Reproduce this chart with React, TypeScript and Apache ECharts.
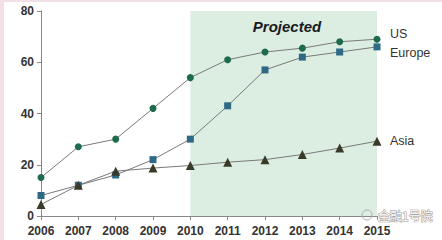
import React, { useEffect, useRef } from "react";
import * as echarts from "echarts";

const years = ["2006", "2007", "2008", "2009", "2010", "2011", "2012", "2013", "2014", "2015"];
const usValues = [15, 27, 30, 42, 54, 61, 64, 65.5, 68, 69];
const europeValues = [8, 12, 16, 22, 30, 43, 57, 62, 64, 66];
const asiaValues = [4.5, 12, 17.5, 18.7, 19.7, 21, 22, 24, 26.5, 29.2];
const projectedFrom = "2010";
const projectedTo = "2015";

export default function App() {
  const ref = useRef<HTMLDivElement>(null);
  useEffect(() => {
    if (!ref.current) return;
    const chart = echarts.init(ref.current, null, { renderer: "svg" });
    const lineStyle = { color: "#7a7a7a", width: 1 };
    const endLabel = (offset: number[]) => ({
      show: true,
      formatter: "{a}",
      distance: 13,
      offset,
      color: "#333",
      fontSize: 12.5,
      fontFamily: "Liberation Sans, Arial, sans-serif",
    });
    chart.setOption({
      animation: false,
      backgroundColor: "#ffffff",
      grid: { left: 41, right: 65, top: 11, bottom: 24 },
      xAxis: {
        type: "category",
        data: years,
        boundaryGap: false,
        axisLine: { lineStyle: { color: "#888", width: 1 } },
        axisTick: { show: true, length: 4, alignWithLabel: true, lineStyle: { color: "#888" } },
        axisLabel: {
          color: "#333",
          fontSize: 12,
          fontWeight: "bold",
          fontFamily: "Liberation Sans, Arial, sans-serif",
          margin: 9,
          interval: 0,
        },
        splitLine: { show: false },
      },
      yAxis: {
        type: "value",
        min: 0,
        max: 80,
        interval: 20,
        axisLine: { show: true, lineStyle: { color: "#888", width: 1 } },
        axisTick: { show: true, length: 4, lineStyle: { color: "#888" } },
        axisLabel: {
          color: "#333",
          fontSize: 12,
          fontWeight: "bold",
          fontFamily: "Liberation Sans, Arial, sans-serif",
          margin: 7,
        },
        splitLine: { show: false },
      },
      series: [
        {
          name: "US",
          type: "line",
          data: usValues,
          symbol: "circle",
          symbolSize: 7,
          itemStyle: { color: "#1d6a4c" },
          lineStyle,
          endLabel: endLabel([0, -5]),
          z: 5,
          markArea: {
            silent: true,
            itemStyle: { color: "#dcede2" },
            data: [[{ xAxis: projectedFrom }, { xAxis: projectedTo }]],
          },
        },
        {
          name: "Europe",
          type: "line",
          data: europeValues,
          symbol: "rect",
          symbolSize: 7,
          itemStyle: { color: "#2e6985" },
          lineStyle,
          endLabel: endLabel([0, 6]),
          z: 5,
        },
        {
          name: "Asia",
          type: "line",
          data: asiaValues,
          symbol: "triangle",
          symbolSize: 9,
          itemStyle: { color: "#3a3a28" },
          lineStyle,
          endLabel: endLabel([0, 0]),
          z: 5,
        },
      ],
      graphic: [
        { type: "rect", shape: { x: 0, y: 0, width: 442, height: 2 }, style: { fill: "#f2e0e6" }, z: 100 },
        { type: "rect", shape: { x: 0, y: 0, width: 4, height: 240 }, style: { fill: "#f2e0e6" }, z: 100 },
        {
          type: "text",
          x: 287,
          y: 26,
          style: {
            text: "Projected",
            fill: "#1a1a1a",
            font: "italic bold 15px Liberation Sans, Arial, sans-serif",
            textAlign: "center",
            textVerticalAlign: "middle",
          },
          z: 50,
        },
        {
          type: "circle",
          shape: { cx: 367, cy: 215, r: 5 },
          style: { fill: "none", stroke: "#aaa", lineWidth: 1 },
          z: 50,
        },
        {
          type: "text",
          x: 378,
          y: 215,
          style: {
            text: "金融1号院",
            fill: "#ffffff",
            stroke: "#9a9a9a",
            lineWidth: 1,
            font: "12px Noto Sans CJK SC, sans-serif",
            textAlign: "left",
            textVerticalAlign: "middle",
          },
          z: 50,
        },
      ],
    });
    return () => chart.dispose();
  }, []);
  return (
    <div
      ref={ref}
      style={{ position: "fixed", left: 0, top: 0, width: 442, height: 240 }}
    />
  );
}
